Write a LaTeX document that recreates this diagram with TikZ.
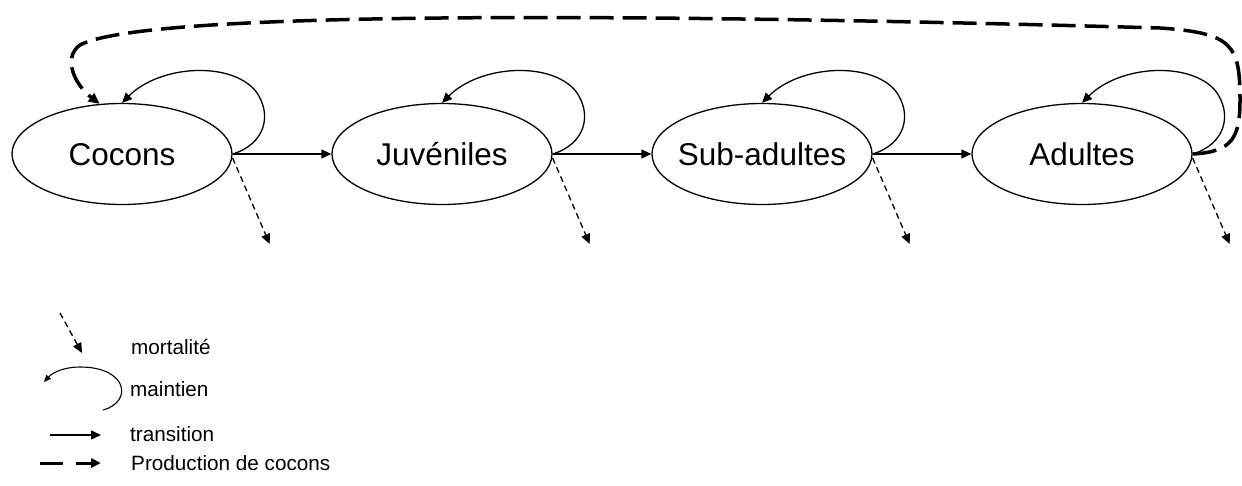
\documentclass[tikz,border=0pt]{standalone}
\usepackage{fontspec}
\setmainfont{Liberation Sans}
\usetikzlibrary{arrows.meta,calc,shapes.geometric}
\begin{document}
\begin{tikzpicture}[x=1pt,y=-1pt,
  state/.style={draw,ellipse,line width=1.3pt,minimum width=220pt,minimum height=101pt,inner sep=-10pt,font=\fontsize{31.5}{36}\selectfont,text height=22.6pt,text depth=0pt},
  tipa/.style={-{Triangle[length=10pt,width=9pt]}},
  trans/.style={tipa,line width=1.3pt},
  mort/.style={tipa,line width=1.3pt,dash pattern=on 6pt off 4pt},
  prod/.style={-{Triangle[length=11pt,width=10pt]},line width=3.5pt,dash pattern=on 24pt off 9pt},
  leg/.style={anchor=base west,font=\fontsize{20.7}{24}\selectfont,inner sep=0pt}
]
\useasboundingbox (0,0) rectangle (1242,486);

\node[state] (cocons) at (122,154) {Cocons};
\node[state] (juv) at (442,154) {Juvéniles};
\node[state] (sub) at (762,154) {Sub-adultes};
\node[state] (adu) at (1082,154) {Adultes};

% transitions
\draw[trans] (cocons.east) -- (juv.west);
\draw[trans] (juv.east) -- (sub.west);
\draw[trans] (sub.east) -- (adu.west);

% self loops (maintien)
\foreach \n in {cocons,juv,sub,adu}{
  \draw[trans] (\n.east) .. controls +(33,-10) and +(17,23) .. ++(23,-63)
     .. controls +(-25,-30) and +(38,-38) .. (\n.north);
  \draw[mort] ([yshift=-4pt]\n.east) -- ++(37,86);
}

% production de cocons
\draw[prod] (adu.east) .. controls (1232,152) and (1240,138) .. (1240,100)
  .. controls (1240,45) and (1233,33) .. (1160,28)
  .. controls (700,15) and (150,8) .. (80,45)
  .. controls (62,58) and (75,85) .. (cocons.114);

% legend
\coordinate (lm1) at (60,313);
\coordinate (lm2) at (82,353);
\draw[mort] (lm1) -- (lm2);
\node[leg] (tm) at (131,354) {mortalité};

\coordinate (la1) at (103,410);
\coordinate (la2) at (44,382);
\draw[trans,line width=1.1pt,-{Triangle[length=7pt,width=6pt]}] (la1) .. controls (133,402) and (128,367) .. (80,367)
  .. controls (65,367) and (53,372) .. (la2);
\node[leg] (tma) at (130,396) {maintien};

\coordinate (lt1) at (50,435);
\coordinate (lt2) at (101,435);
\draw[trans] (lt1) -- (lt2);
\node[leg] (tt) at (130,441) {transition};

\coordinate (lp1) at (40,463);
\coordinate (lp2) at (101,463);
\draw[prod,line width=3pt,dash pattern=on 23pt off 13pt,-{Triangle[length=10pt,width=9pt]}] (lp1) -- (lp2);
\node[leg] (tp) at (131,470) {Production de cocons};
\end{tikzpicture}
\end{document}
